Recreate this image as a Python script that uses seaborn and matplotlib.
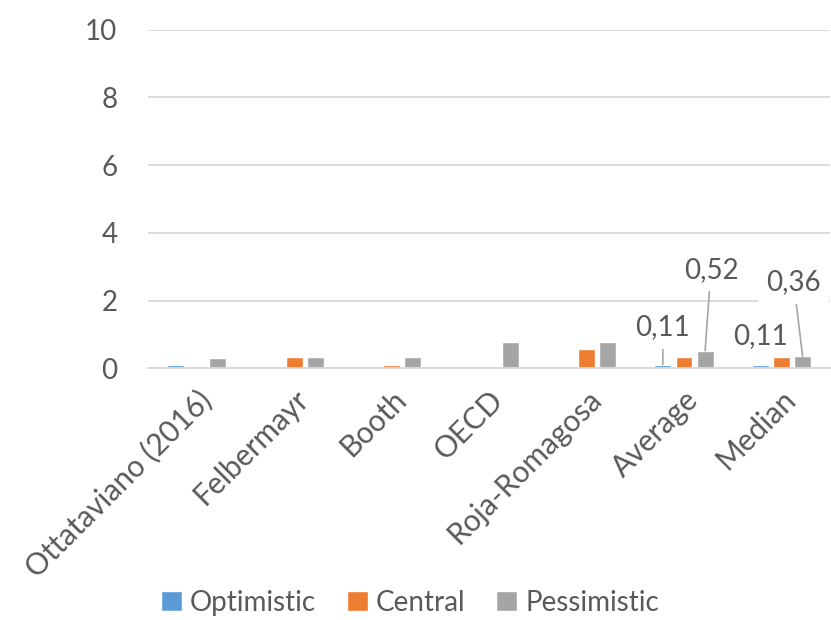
import pandas as pd
import seaborn as sns
import matplotlib.pyplot as plt

categories = ["Ottataviano (2016)", "Felbermayr", "Booth", "OECD", "Roja-Romagosa", "Average", "Median"]
optimistic = [0.10, 0.07, 0.0, 0.0, 0.0, 0.11, 0.11]
central = [0.0, 0.34, 0.10, 0.0, 0.57, 0.33, 0.33]
pessimistic = [0.29, 0.34, 0.32, 0.79, 0.79, 0.52, 0.36]
series = ["Optimistic", "Central", "Pessimistic"]
colors = ["#5B9BD5", "#ED7D31", "#A5A5A5"]

# data labels: (series index, category index, text, dx, dy, leader line)
labels = [
    (0, 5, "0,11", 0.0, 1.10, True),
    (2, 5, "0,52", 0.06, 2.38, True),
    (0, 6, "0,11", 0.0, 0.84, False),
    (2, 6, "0,36", -0.09, 2.18, True),
]

df = pd.DataFrame({
    "category": categories * 3,
    "scenario": [s for s in series for _ in categories],
    "value": optimistic + central + pessimistic,
})

sns.set_style("white")
plt.rcParams["font.family"] = ["Lato", "DejaVu Sans"]
text_col = "#595959"

fig = plt.figure(figsize=(8.31, 6.2), dpi=100)
ax = fig.add_axes([0.178, 0.406, 0.821, 0.546])

sns.barplot(data=df, x="category", y="value", hue="scenario", hue_order=series,
            order=categories, palette=colors, width=0.65, gap=0.2, ax=ax,
            saturation=1, legend=True)

ax.set_ylim(0, 10)
ax.set_yticks(range(0, 11, 2))
ax.set_xlim(-0.5, len(categories) - 0.5)
ax.yaxis.grid(True, color="#D9D9D9", linewidth=1.3)
ax.set_axisbelow(True)
for s in ["top", "right", "left"]:
    ax.spines[s].set_visible(False)
ax.spines["bottom"].set_color("#D9D9D9")
ax.spines["bottom"].set_linewidth(1.3)
ax.set_xlabel("")
ax.set_ylabel("")
ax.tick_params(axis="y", length=0, pad=22, labelsize=20, labelcolor=text_col)
ax.tick_params(axis="x", length=0, pad=12, labelsize=21.5, labelcolor=text_col)
plt.setp(ax.get_xticklabels(), rotation=45, ha="right", rotation_mode="anchor")

for si, ci, txt, dx, dy, line in labels:
    bar = ax.containers[si][ci]
    bx = bar.get_x() + bar.get_width() / 2
    by = bar.get_height()
    ax.annotate(txt, xy=(bx, by), xytext=(bx + dx, by + dy),
                ha="center", va="center", fontsize=20, color=text_col,
                bbox=dict(boxstyle="square,pad=0.3", fc="white", ec="none"),
                arrowprops=dict(arrowstyle="-", color="#A6A6A6", lw=1.2,
                                shrinkA=0, shrinkB=0) if line else None)

ax.legend(loc="center", bbox_to_anchor=(410 / 831, 1 - 603 / 620),
          bbox_transform=fig.transFigure, ncol=3, frameon=False, fontsize=20,
          labelcolor=text_col, handlelength=0.75, handleheight=0.75,
          handletextpad=0.3, columnspacing=1.1)

fig.savefig("out.png", dpi=100)
